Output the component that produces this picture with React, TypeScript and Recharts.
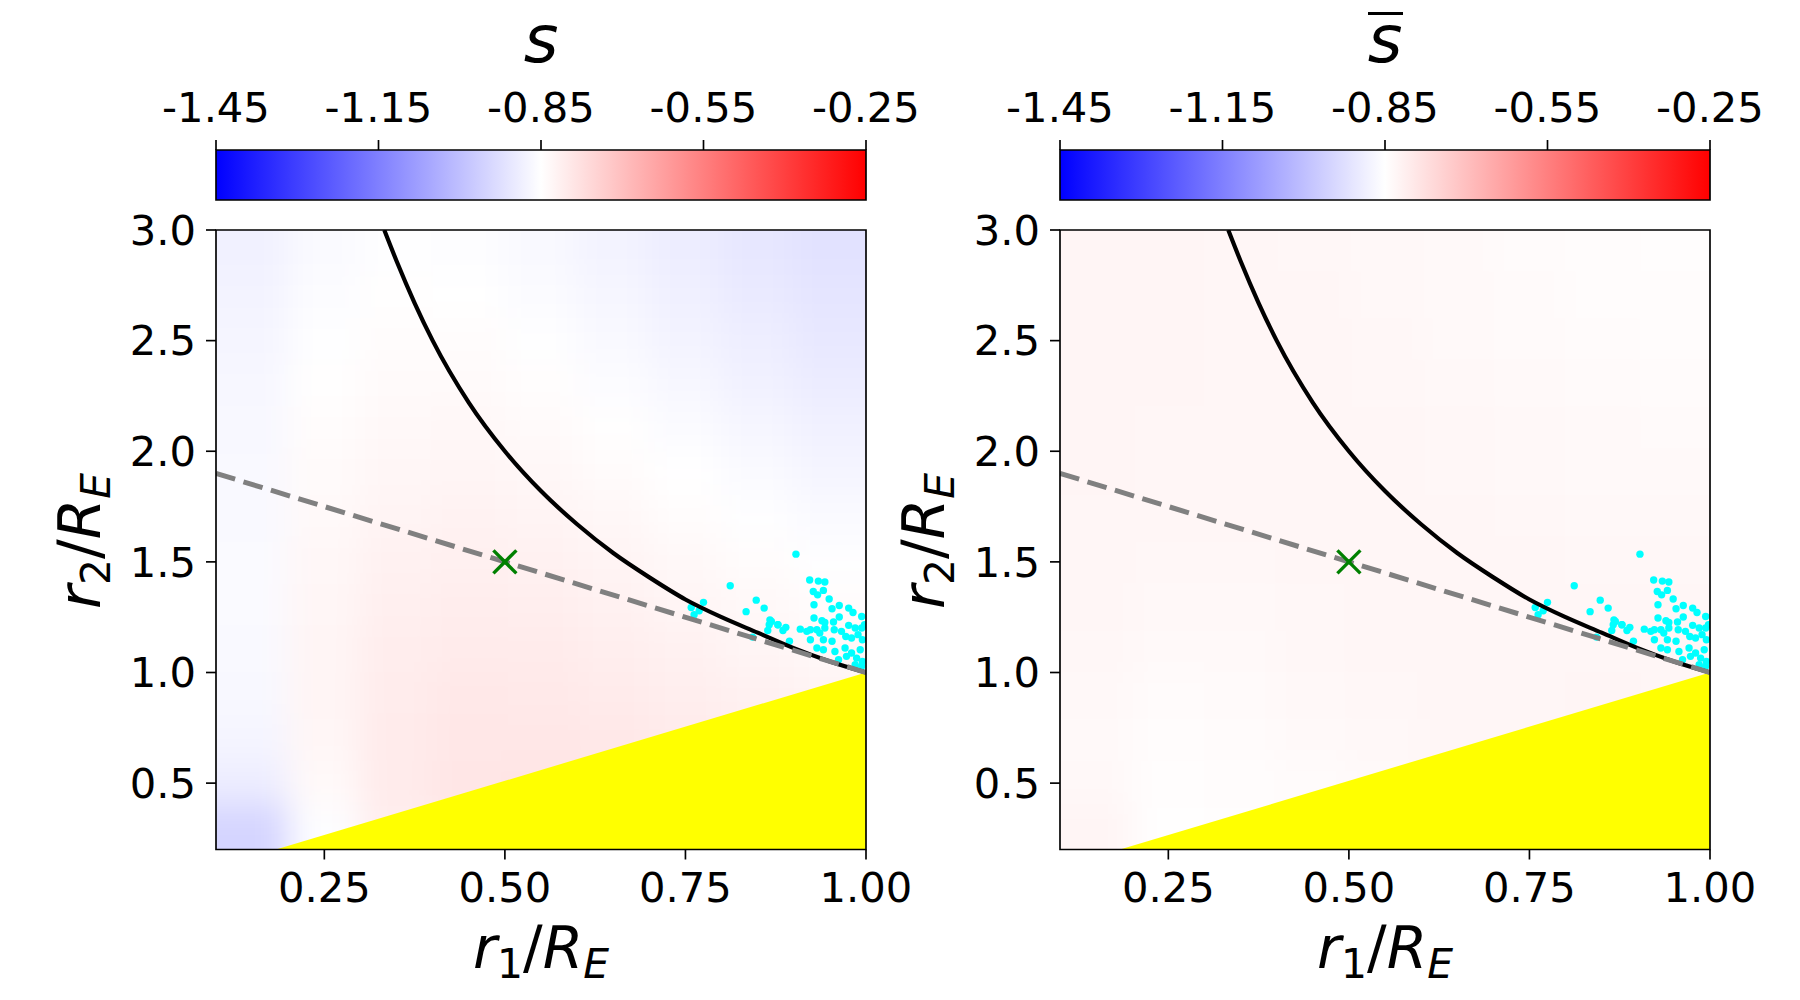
import React from 'react';
import { ComposedChart, XAxis, YAxis, ReferenceArea, Area, Scatter, Line } from 'recharts';

// ---------- axes ----------
const xDomain = [0.1, 1.0];
const yDomain = [0.2, 3.0];
const xTicks = [0.25, 0.5, 0.75, 1.0];
const yTicks = [0.5, 1.0, 1.5, 2.0, 2.5, 3.0];
const cbDomain = [-1.45, -0.25];
const cbTicks = [-1.45, -1.15, -0.85, -0.55, -0.25];

// ---------- heat-map cells (edges) ----------
const cellXEdges = [0.1, 0.2, 0.3, 0.4, 0.5, 0.6, 0.7, 0.8, 0.9, 1.0];
const cellYEdges = [3.0, 2.8, 2.6, 2.4, 2.2, 2.0, 1.8, 1.6, 1.4, 1.2, 1.0, 0.8, 0.6, 0.4, 0.2];

// s (left panel), rows from top (y=2.9) to bottom (y=0.3), columns x=0.15..0.95
const sValues = [
  [-0.882, -0.862, -0.853, -0.855, -0.865, -0.879, -0.893, -0.906, -0.918],
  [-0.878, -0.857, -0.848, -0.850, -0.859, -0.872, -0.886, -0.899, -0.911],
  [-0.874, -0.852, -0.843, -0.844, -0.852, -0.864, -0.878, -0.891, -0.903],
  [-0.870, -0.847, -0.838, -0.838, -0.845, -0.856, -0.869, -0.882, -0.894],
  [-0.867, -0.843, -0.833, -0.832, -0.838, -0.848, -0.860, -0.872, -0.884],
  [-0.865, -0.839, -0.828, -0.826, -0.831, -0.840, -0.851, -0.862, -0.873],
  [-0.863, -0.835, -0.823, -0.820, -0.824, -0.832, -0.842, -0.852, -0.862],
  [-0.862, -0.832, -0.818, -0.814, -0.817, -0.825, -0.834, -0.843, -0.852],
  [-0.862, -0.829, -0.813, -0.808, -0.810, -0.817, -0.826, -0.834, -0.842],
  [-0.863, -0.827, -0.808, -0.802, -0.804, -0.810, -0.818, -0.826, -0.833],
  [-0.866, -0.826, -0.805, -0.797, -0.798, -0.803, -0.810, -0.817, -0.824],
  [-0.874, -0.828, -0.803, -0.793, -0.793, -0.797, -0.803, -0.809, -0.815],
  [-0.892, -0.836, -0.804, -0.791, -0.789, -0.792, -0.797, -0.802, -0.807],
  [-0.950, -0.855, -0.810, -0.794, -0.789, -0.790, -0.794, -0.799, -0.804],
];

// s-bar (right panel)
const sBarValues = [
  [-0.826, -0.827, -0.829, -0.831, -0.834, -0.837, -0.840, -0.843, -0.846],
  [-0.826, -0.827, -0.828, -0.830, -0.833, -0.836, -0.839, -0.842, -0.844],
  [-0.826, -0.827, -0.828, -0.830, -0.832, -0.835, -0.838, -0.840, -0.842],
  [-0.826, -0.827, -0.828, -0.829, -0.831, -0.834, -0.836, -0.838, -0.840],
  [-0.826, -0.828, -0.828, -0.829, -0.830, -0.832, -0.834, -0.836, -0.838],
  [-0.827, -0.829, -0.829, -0.829, -0.830, -0.831, -0.833, -0.835, -0.836],
  [-0.828, -0.830, -0.830, -0.829, -0.829, -0.830, -0.831, -0.833, -0.834],
  [-0.829, -0.832, -0.831, -0.830, -0.829, -0.829, -0.830, -0.831, -0.832],
  [-0.830, -0.834, -0.833, -0.831, -0.829, -0.828, -0.829, -0.830, -0.830],
  [-0.831, -0.837, -0.835, -0.832, -0.830, -0.828, -0.828, -0.828, -0.829],
  [-0.833, -0.840, -0.838, -0.834, -0.831, -0.829, -0.828, -0.827, -0.828],
  [-0.835, -0.843, -0.841, -0.837, -0.833, -0.830, -0.828, -0.827, -0.827],
  [-0.834, -0.846, -0.844, -0.840, -0.835, -0.831, -0.829, -0.827, -0.826],
  [-0.826, -0.847, -0.846, -0.842, -0.837, -0.832, -0.829, -0.827, -0.826],
];

// ---------- curves ----------
const boundaryCurve = [
  { x: 0.333, y: 3.0 }, { x: 0.35, y: 2.86 }, { x: 0.375, y: 2.67 }, { x: 0.4, y: 2.5 },
  { x: 0.45, y: 2.22 }, { x: 0.5, y: 2.0 }, { x: 0.55, y: 1.82 }, { x: 0.6, y: 1.67 },
  { x: 0.65, y: 1.54 }, { x: 0.7, y: 1.43 }, { x: 0.75, y: 1.33 }, { x: 0.8, y: 1.25 },
  { x: 0.85, y: 1.18 }, { x: 0.9, y: 1.11 }, { x: 0.95, y: 1.05 }, { x: 1.0, y: 1.0 },
];
const dashedLine = [{ x: 0.1, y: 1.9 }, { x: 1.0, y: 1.0 }];
const yellowEdge = [{ x: 0.183, y: 0.2 }, { x: 1.0, y: 1.0 }];
const markerPoint = [{ x: 0.5, y: 1.5 }];

const cyanPoints = [
  { x: 0.812, y: 1.392 }, { x: 0.775, y: 1.317 }, { x: 0.758, y: 1.294 }, { x: 0.769, y: 1.279 },
  { x: 0.762, y: 1.261 }, { x: 0.848, y: 1.327 }, { x: 0.834, y: 1.275 }, { x: 0.859, y: 1.291 },
  { x: 0.867, y: 1.238 }, { x: 0.866, y: 1.216 }, { x: 0.864, y: 1.190 }, { x: 0.878, y: 1.216 },
  { x: 0.843, y: 1.160 }, { x: 0.903, y: 1.535 }, { x: 0.922, y: 1.418 }, { x: 0.934, y: 1.413 },
  { x: 0.943, y: 1.409 }, { x: 0.927, y: 1.366 }, { x: 0.941, y: 1.371 }, { x: 0.933, y: 1.351 },
  { x: 0.949, y: 1.332 }, { x: 0.928, y: 1.306 }, { x: 0.953, y: 1.288 }, { x: 0.963, y: 1.303 },
  { x: 0.976, y: 1.291 }, { x: 0.928, y: 1.246 }, { x: 0.963, y: 1.251 }, { x: 0.939, y: 1.234 },
  { x: 0.943, y: 1.226 }, { x: 0.955, y: 1.228 }, { x: 0.976, y: 1.213 }, { x: 0.985, y: 1.201 },
  { x: 0.994, y: 1.201 }, { x: 0.869, y: 1.231 }, { x: 0.878, y: 1.216 }, { x: 0.889, y: 1.204 },
  { x: 0.885, y: 1.190 }, { x: 0.909, y: 1.196 }, { x: 0.918, y: 1.186 }, { x: 0.923, y: 1.193 },
  { x: 0.932, y: 1.193 }, { x: 0.936, y: 1.178 }, { x: 0.943, y: 1.201 }, { x: 0.956, y: 1.193 },
  { x: 0.966, y: 1.186 }, { x: 0.972, y: 1.163 }, { x: 0.980, y: 1.156 }, { x: 0.989, y: 1.171 },
  { x: 0.995, y: 1.148 }, { x: 0.923, y: 1.148 }, { x: 0.941, y: 1.148 }, { x: 0.953, y: 1.141 },
  { x: 0.932, y: 1.111 }, { x: 0.941, y: 1.103 }, { x: 0.957, y: 1.095 }, { x: 0.971, y: 1.111 },
  { x: 0.980, y: 1.088 }, { x: 0.992, y: 1.103 }, { x: 0.973, y: 1.073 }, { x: 0.987, y: 1.065 },
  { x: 0.995, y: 1.050 }, { x: 0.962, y: 1.058 }, { x: 0.985, y: 1.035 }, { x: 0.994, y: 1.028 },
  { x: 0.894, y: 1.141 }, { x: 0.982, y: 1.271 }, { x: 0.994, y: 1.253 }, { x: 0.998, y: 1.216 },
];

// ---------- styling ----------
const FONT = 'DejaVu Sans';
const TICK_FS = 41.67;
const LABEL_FS = 58.3;
const TITLE_FS = 66.7;
const LW = 1.67;
const CHART_W = 950;
const CHART_H = 1000;
const PLOT = { left: 216, top: 230, right: 866, bottom: 849.5 };

function bwr(v: number): string {
  let t = (v - cbDomain[0]) / (cbDomain[1] - cbDomain[0]);
  t = Math.max(0, Math.min(1, t));
  let r, g, b;
  if (t < 0.5) { r = 2 * t; g = 2 * t; b = 1; } else { r = 1; g = 2 * (1 - t); b = 2 * (1 - t); }
  const c = (u: number) => Math.round(u * 255);
  return `rgb(${c(r)},${c(g)},${c(b)})`;
}

const tickStyle = { fontFamily: FONT, fontSize: TICK_FS, fill: '#000' };
const tickLineStyle = { stroke: '#000', strokeWidth: LW };

const Dot = (p: any) => <circle cx={p.cx} cy={p.cy} r={3.7} fill="#00ffff" />;
const Cross = (p: any) => {
  const h = 11.5;
  return (
    <g stroke="#008000" strokeWidth={3.4}>
      <line x1={p.cx - h} y1={p.cy - h} x2={p.cx + h} y2={p.cy + h} />
      <line x1={p.cx - h} y1={p.cy + h} x2={p.cx + h} y2={p.cy - h} />
    </g>
  );
};

// smooth (blurred) colour field, clipped to the plot rectangle
function HeatLayer({ values, left }: { values: number[][]; left: number }) {
  const nR = values.length;
  const nC = values[0].length;
  const padX = 0.1;
  const padY = 0.3;
  const cells: any[] = [];
  values.forEach((row, i) => {
    row.forEach((v, j) => {
      const col = bwr(v);
      const x1 = cellXEdges[j] - (j === 0 ? padX : 0);
      const x2 = cellXEdges[j + 1] + (j === nC - 1 ? padX : 0);
      const y1 = cellYEdges[i + 1] - (i === nR - 1 ? padY : 0);
      const y2 = cellYEdges[i] + (i === 0 ? padY : 0);
      cells.push(
        <ReferenceArea
          key={`c${i}-${j}`}
          x1={x1} x2={x2} y1={y1} y2={y2}
          fill={col} fillOpacity={1} stroke={col} strokeWidth={1}
          ifOverflow="visible"
        />
      );
    });
  });
  return (
    <div
      style={{
        position: 'absolute', left: left + PLOT.left, top: PLOT.top,
        width: PLOT.right - PLOT.left, height: PLOT.bottom - PLOT.top, overflow: 'hidden',
      }}
    >
      <div style={{ position: 'absolute', left: -PLOT.left, top: -PLOT.top, filter: 'blur(16px)' }}>
        <ComposedChart
          width={CHART_W} height={CHART_H}
          margin={{ top: PLOT.top, right: CHART_W - PLOT.right, bottom: CHART_H - PLOT.bottom, left: PLOT.left }}
        >
          <XAxis hide type="number" dataKey="x" domain={xDomain} allowDataOverflow />
          <YAxis hide type="number" dataKey="y" domain={yDomain} allowDataOverflow />
          {cells}
        </ComposedChart>
      </div>
    </div>
  );
}

function Panel({ left }: { left: number }) {
  return (
    <div style={{ position: 'absolute', left, top: 0 }}>
      <ComposedChart
        width={CHART_W} height={CHART_H}
        margin={{ top: PLOT.top, right: CHART_W - PLOT.right, bottom: CHART_H - PLOT.bottom - 60, left: PLOT.left - 100 }}
      >
        <XAxis
          type="number" dataKey="x" domain={xDomain} ticks={xTicks} allowDataOverflow interval={0}
          tickFormatter={(v: number) => v.toFixed(2)} tickSize={10} tickMargin={13}
          axisLine={false} tickLine={tickLineStyle} tick={tickStyle} height={60}
        />
        <YAxis
          type="number" dataKey="y" domain={yDomain} ticks={yTicks} allowDataOverflow interval={0}
          tickFormatter={(v: number) => v.toFixed(1)} tickSize={10} tickMargin={10}
          axisLine={false} tickLine={tickLineStyle} tick={tickStyle} width={100}
        />
        <Area
          data={yellowEdge} dataKey="y" type="linear" baseValue="dataMin"
          fill="#ffff00" fillOpacity={1} stroke="none" isAnimationActive={false} dot={false} activeDot={false}
          zIndex={2}
        />
        <Scatter data={cyanPoints} shape={Dot} isAnimationActive={false} zIndex={3} />
        <Line
          data={boundaryCurve} dataKey="y" type="monotone" stroke="#000" strokeWidth={4.2}
          dot={false} activeDot={false} isAnimationActive={false} zIndex={4}
        />
        <Line
          data={dashedLine} dataKey="y" type="linear" stroke="#808080" strokeWidth={5}
          strokeDasharray="20 8.7" dot={false} activeDot={false} isAnimationActive={false} zIndex={5}
        />
        <Scatter data={markerPoint} shape={Cross} isAnimationActive={false} zIndex={6} />
        <ReferenceArea
          x1={xDomain[0]} x2={xDomain[1]} y1={yDomain[0]} y2={yDomain[1]}
          fill="none" stroke="#000" strokeWidth={LW} zIndex={7}
        />
      </ComposedChart>
    </div>
  );
}

function ColorBar({ left, id }: { left: number; id: string }) {
  const cbData = cbTicks.map((v) => ({ v }));
  return (
    <div style={{ position: 'absolute', left, top: 0 }}>
      <ComposedChart width={CHART_W} height={210} data={cbData} margin={{ top: 90, right: CHART_W - PLOT.right, bottom: 10, left: PLOT.left }}>
        <defs>
          <linearGradient id={id} x1="0" y1="0" x2="1" y2="0">
            <stop offset="0" stopColor="#0000ff" />
            <stop offset="0.5" stopColor="#ffffff" />
            <stop offset="1" stopColor="#ff0000" />
          </linearGradient>
        </defs>
        <XAxis
          orientation="top" type="number" dataKey="v" domain={cbDomain} ticks={cbTicks} allowDataOverflow interval={0}
          tickFormatter={(v: number) => v.toFixed(2)} tickSize={10} tickMargin={18}
          axisLine={false} tickLine={tickLineStyle} tick={tickStyle} height={60}
        />
        <YAxis hide type="number" domain={[0, 1]} allowDataOverflow />
        <ReferenceArea
          x1={cbDomain[0]} x2={cbDomain[1]} y1={0} y2={1}
          fill={`url(#${id})`} fillOpacity={1} stroke="#000" strokeWidth={LW}
        />
      </ComposedChart>
    </div>
  );
}

function AxisLabel({ x, y, rot, sub }: { x: number; y: number; rot: number; sub: string }) {
  const sfs = LABEL_FS * 0.7;
  const d = 10;
  return (
    <text transform={`translate(${x},${y}) rotate(${rot})`} textAnchor="middle" fontFamily={FONT} fontSize={LABEL_FS} fill="#000">
      <tspan fontStyle="italic">r</tspan>
      <tspan fontSize={sfs} dy={d}>{sub}</tspan>
      <tspan dy={-d}>/</tspan>
      <tspan fontStyle="italic">R</tspan>
      <tspan fontStyle="italic" fontSize={sfs} dy={d}>E</tspan>
    </text>
  );
}

export default function App() {
  return (
    <div style={{ position: 'absolute', left: 0, top: 0, width: 1800, height: 1000, background: '#fff', overflow: 'hidden' }}>
      <HeatLayer values={sValues} left={0} />
      <HeatLayer values={sBarValues} left={844} />
      <ColorBar left={0} id="bwrA" />
      <ColorBar left={844} id="bwrB" />
      <Panel left={0} />
      <Panel left={844} />
      <svg width={1800} height={1000} style={{ position: 'absolute', left: 0, top: 0, pointerEvents: 'none' }}>
        <text x={541} y={62} textAnchor="middle" fontFamily={FONT} fontSize={TITLE_FS} fontStyle="italic" fill="#000">s</text>
        <text x={1385} y={62} textAnchor="middle" fontFamily={FONT} fontSize={TITLE_FS} fontStyle="italic" fill="#000">s</text>
        <line x1={1368} y1={13.5} x2={1403} y2={13.5} stroke="#000" strokeWidth={3} />
        <AxisLabel x={541} y={968} rot={0} sub="1" />
        <AxisLabel x={1385} y={968} rot={0} sub="1" />
        <AxisLabel x={100} y={541} rot={-90} sub="2" />
        <AxisLabel x={944} y={541} rot={-90} sub="2" />
      </svg>
    </div>
  );
}
